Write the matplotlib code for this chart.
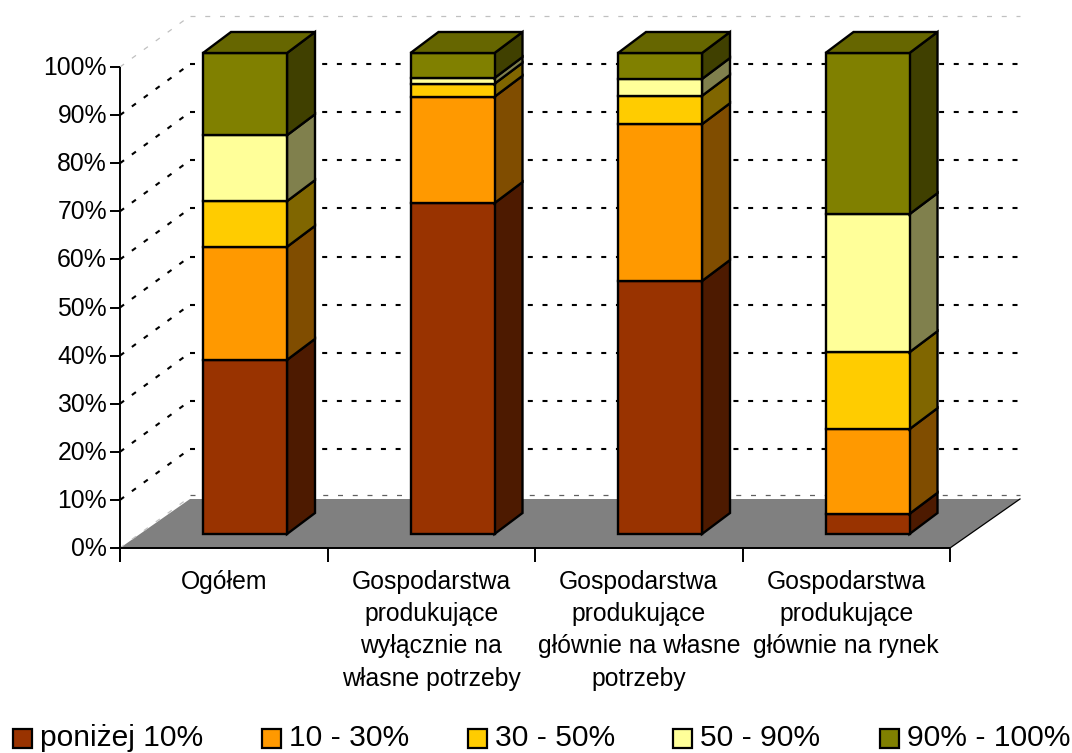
import matplotlib
matplotlib.use("Agg")
import matplotlib.pyplot as plt
from matplotlib.patches import Polygon, Rectangle

plt.rcParams['font.family'] = ['Liberation Sans', 'DejaVu Sans']

# dane [%]
categories = ["Ogółem",
              "Gospodarstwa\nprodukujące\nwyłącznie na\nwłasne potrzeby",
              "Gospodarstwa\nprodukujące\ngłównie na własne\npotrzeby",
              "Gospodarstwa\nprodukujące\ngłównie na rynek"]
series_names = ["poniżej 10%", "10 - 30%", "30 - 50%", "50 - 90%", "90% - 100%"]
ponizej_10 = [36.2, 68.8, 52.6, 4.2]
od_10_do_30 = [23.5, 22.1, 32.6, 17.6]
od_30_do_50 = [9.5, 2.7, 5.9, 16.0]
od_50_do_90 = [13.7, 1.2, 3.5, 28.7]
od_90_do_100 = [17.1, 5.2, 5.4, 33.5]
series = [ponizej_10, od_10_do_30, od_30_do_50, od_50_do_90, od_90_do_100]
y_ticks = [0, 10, 20, 30, 40, 50, 60, 70, 80, 90, 100]

front = ["#993300", "#FF9900", "#FFCC00", "#FFFF99", "#808000"]
side = ["#4D1A00", "#804D00", "#806600", "#80804D", "#404000"]
top_col = "#666600"

# geometria w pikselach
X0, Y0 = 120, 548       # poczatek osi
CAT_W = 207.5
PX_PCT = 4.81           # pikseli na 1%
DX, DY = 70, 51         # glebokosc calej podlogi
BAR_DX, BAR_DY = 28, 21 # glebokosc slupka
BAR_W = 84
BAR_X = 83              # lewy brzeg slupka od poczatku kategorii
BAR_Y0 = 534            # dol slupka

fig = plt.figure(figsize=(10.72, 7.53), dpi=100)
ax = fig.add_axes([0, 0, 1, 1])
ax.set_xlim(0, 1072)
ax.set_ylim(753, 0)
ax.axis("off")

x_end = X0 + CAT_W * len(categories)

# podloga
ax.add_patch(Polygon([(X0, Y0), (X0 + DX, Y0 - DY + 2), (x_end + DX, Y0 - DY + 2), (x_end, Y0)],
                     facecolor="#808080", edgecolor="none", zorder=1))
ax.plot([x_end, x_end + DX], [Y0, Y0 - DY + 2], color="black", lw=0.9, zorder=2)

# siatka
for t in y_ticks:
    y = Y0 - t * PX_PCT
    if t == 100:
        col, lw, dash = "#C0C0C0", 0.9, (4, 7.8)
    elif t == 0:
        col, lw, dash = "#606060", 0.9, (4, 7.8)
    else:
        col, lw, dash = "black", 1.5, (2.4, 4.65)
    diag_col = "#C0C0C0" if t == 0 else col
    ax.plot([X0, X0 + DX], [y, y - DY], color=diag_col, lw=lw, dashes=dash, zorder=2, dash_capstyle="butt")
    ax.plot([X0 + DX, x_end + DX], [y - DY - (2 if t == 0 else 0)] * 2, color=col, lw=lw, dashes=dash, zorder=2,
            dash_capstyle="butt")

# slupki
for i in range(len(categories)):
    x1 = X0 + CAT_W * i + BAR_X
    x2 = x1 + BAR_W
    bottom = 0
    for s, vals in enumerate(series):
        v = vals[i]
        yb = BAR_Y0 - bottom * PX_PCT
        yt = BAR_Y0 - (bottom + v) * PX_PCT
        ax.add_patch(Polygon([(x2, yb), (x2 + BAR_DX, yb - BAR_DY), (x2 + BAR_DX, yt - BAR_DY), (x2, yt)],
                             facecolor=side[s], edgecolor="black", lw=1.7, zorder=3 + s))
        ax.add_patch(Rectangle((x1, yt), BAR_W, yb - yt, facecolor=front[s], edgecolor="black",
                               lw=1.7, zorder=3 + s))
        bottom += v
        if s == len(series) - 1:
            ax.add_patch(Polygon([(x1, yt), (x1 + BAR_DX, yt - BAR_DY), (x2 + BAR_DX, yt - BAR_DY), (x2, yt)],
                                 facecolor=top_col, edgecolor="black", lw=1.7, zorder=3 + s))

# osie
ax.plot([X0, X0], [Y0 - 100 * PX_PCT, Y0 + 14], color="black", lw=1.4, zorder=10, solid_capstyle="butt")
ax.plot([X0, x_end], [Y0, Y0], color="black", lw=1.4, zorder=10, solid_capstyle="butt")
for t in y_ticks:
    y = Y0 - t * PX_PCT
    ax.plot([X0 - 10, X0], [y, y], color="black", lw=1.4, zorder=10, solid_capstyle="butt")
    ax.text(X0 - 13, y + 1, f"{t}%", ha="right", va="center", fontsize=17.8, color="black")
for i in range(len(categories) + 1):
    x = X0 + CAT_W * i
    ax.plot([x, x], [Y0, Y0 + 14], color="black", lw=1.4, zorder=10, solid_capstyle="butt")
for i, name in enumerate(categories):
    ax.text(X0 + CAT_W * (i + 0.5), 570, name, ha="center", va="top", fontsize=17.8,
            linespacing=1.43, color="black")

# legenda
leg_x = [13, 262, 468, 673, 880]
for name, x, col in zip(series_names, leg_x, front):
    ax.add_patch(Rectangle((x, 729), 19, 19, facecolor=col, edgecolor="black", lw=1.6, zorder=5))
    ax.text(x + 27, 746.5, name, ha="left", va="baseline", fontsize=21.6, color="black")

fig.savefig("out.png", dpi=100)
